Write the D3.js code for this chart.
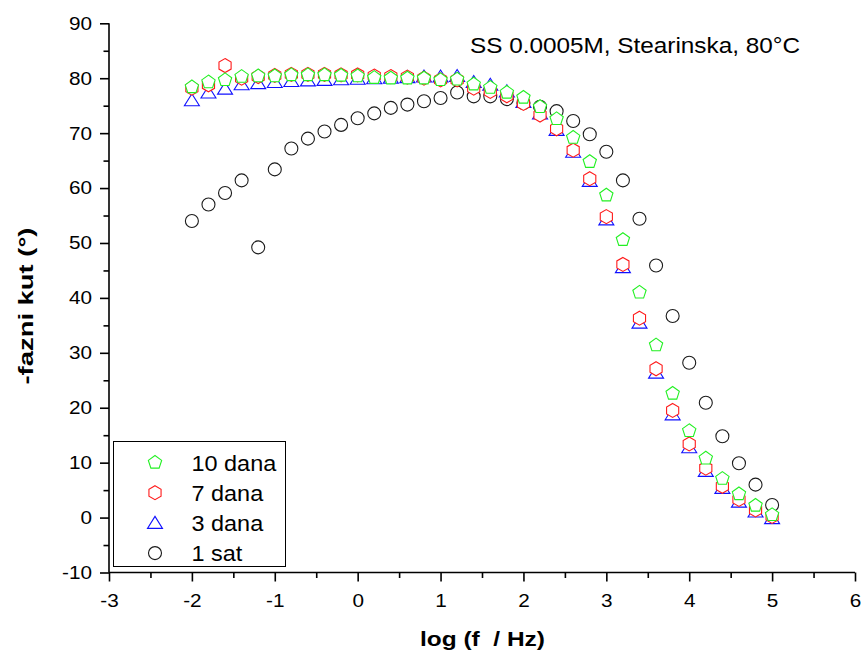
<!DOCTYPE html>
<html><head><meta charset="utf-8">
<script src="https://cdn.jsdelivr.net/npm/d3@7"></script>
<style>body{margin:0;background:#fff}svg{display:block}text{font-family:"Liberation Sans",Arial,sans-serif}</style>
</head><body><svg id="c" width="865" height="655"></svg>
<script>
const logF = [-2,-1.8,-1.6,-1.4,-1.2,-1.0,-0.8,-0.6,-0.4,-0.2,0,0.2,0.4,0.6,0.8,1.0,1.2,1.4,1.6,1.8,2.0,2.2,2.4,2.6,2.8,3.0,3.2,3.4,3.6,3.8,4.0,4.2,4.4,4.6,4.8,5.0];
const dana10 = [78.4,79.3,79.7,80.3,80.4,80.4,80.6,80.6,80.6,80.5,80.4,80.1,80.0,80.0,80.0,79.7,79.8,78.9,78.3,77.4,76.5,74.8,72.6,69.2,64.8,58.7,50.6,41.0,31.4,22.6,15.8,10.8,7.1,4.3,2.2,0.5];
const dana7 = [78.2,78.8,82.3,80.0,80.3,80.5,80.7,80.7,80.7,80.6,80.6,80.4,80.3,80.2,80.0,79.7,79.7,78.2,77.6,76.8,75.4,73.3,70.8,66.9,61.7,54.8,46.1,36.3,27.1,19.5,13.4,9.0,5.7,3.3,1.4,0.2];
const dana3 = [76.0,77.4,78.1,78.9,79.1,79.3,79.5,79.6,79.7,79.8,79.9,80.0,80.1,80.2,80.3,80.3,80.4,79.3,78.8,77.6,75.7,73.6,70.6,66.6,61.3,54.3,45.6,35.5,26.4,18.8,12.8,8.5,5.4,2.9,1.1,-0.1];
const sat1 = [54.0,57.0,59.1,61.4,49.2,63.4,67.2,69.0,70.3,71.5,72.7,73.6,74.6,75.2,75.8,76.4,77.4,76.7,76.7,76.2,75.5,74.8,74.0,72.2,69.8,66.6,61.4,54.4,45.9,36.7,28.2,20.9,14.8,9.9,6.0,2.3];
const xTicks = [-3,-2,-1,0,1,2,3,4,5,6];
const yTicks = [-10,0,10,20,30,40,50,60,70,80,90];
const seriesNames = ["10 dana","7 dana","3 dana","1 sat"];
const seriesColors = ["#22f022","#ff1a1a","#1010ff","#1a1a1a"];
const title = "SS 0.0005M, Stearinska, 80°C";
const xTitle = "log (f\u00A0\u00A0/ Hz)";
const yTitle = "-fazni kut (°)";

const svg = d3.select("#c");
const x = d3.scaleLinear().domain([-3,6]).range([109,855]);
const y = d3.scaleLinear().domain([-10,90]).range([572.5,23.3]);

function stretch(sel, f){ sel.each(function(){ const w=this.getComputedTextLength(); d3.select(this).attr("textLength",w*f).attr("lengthAdjust","spacingAndGlyphs"); }); }

function poly(n, r, rot){ return {draw(ctx){ for(let i=0;i<n;i++){const a=rot+2*Math.PI*i/n; const px=r*Math.sin(a), py=-r*Math.cos(a); if(i===0)ctx.moveTo(px,py); else ctx.lineTo(px,py);} ctx.closePath(); }}; }
const pentagon = poly(5,7,0);
const hexagon = poly(6,7,0);
const tri = {draw(ctx){ctx.moveTo(0,-6.5);ctx.lineTo(7.5,5.5);ctx.lineTo(-7.5,5.5);ctx.closePath();}};
const circ = {draw(ctx){ctx.moveTo(6.5,0);ctx.arc(0,0,6.5,0,2*Math.PI);}};
const shapes = [pentagon, hexagon, tri, circ];
const dataSets = [dana10, dana7, dana3, sat1];

// axes
const fmt = d => String(d);
const xAxis = svg.append("g").attr("transform",`translate(0,${y(-10)})`);
xAxis.call(d3.axisBottom(x).tickValues(xTicks).tickSize(9).tickPadding(12).tickFormat(fmt));
const xMinor = svg.append("g").attr("transform",`translate(0,${y(-10)})`)
  .call(d3.axisBottom(x).tickValues(d3.range(-2.5,6,1)).tickSize(5.5).tickFormat(""));
const yAxis = svg.append("g").attr("transform",`translate(${x(-3)},0)`);
yAxis.call(d3.axisLeft(y).tickValues(yTicks).tickSize(9).tickPadding(8).tickFormat(fmt));
const yMinor = svg.append("g").attr("transform",`translate(${x(-3)},0)`)
  .call(d3.axisLeft(y).tickValues(d3.range(-5,90,10)).tickSize(5.5).tickFormat(""));
svg.selectAll(".domain").attr("stroke","#000").attr("stroke-width",1.6);
svg.selectAll(".tick line").attr("stroke","#000").attr("stroke-width",1.6);
svg.selectAll(".tick text").attr("font-size",18.5).attr("fill","#000").style("font-family","Liberation Sans, Arial, sans-serif");
stretch(svg.selectAll(".tick text"),1.12);
xAxis.selectAll(".domain").attr("d",`M${x(-3)},0H${x(6)}`);
yAxis.selectAll(".domain").attr("d",`M0,${y(-10)}V${y(90)}`);
xMinor.select(".domain").remove(); yMinor.select(".domain").remove();

// axis titles
const xt = svg.append("text").attr("x",482.5).attr("y",646).attr("text-anchor","middle").attr("font-size",21).attr("font-weight","bold").text(xTitle);
xt.attr("textLength",125).attr("lengthAdjust","spacingAndGlyphs");
const yt = svg.append("text").attr("transform","translate(33,306) rotate(-90)").attr("text-anchor","middle").attr("font-size",21).attr("font-weight","bold").text(yTitle);
yt.attr("textLength",157).attr("lengthAdjust","spacingAndGlyphs");
const tt = svg.append("text").attr("x",470).attr("y",52.5).attr("font-size",22).text(title);
tt.attr("textLength",330).attr("lengthAdjust","spacingAndGlyphs");

// data: draw 1 sat first, then 3, 7, 10
[3,2,1,0].forEach(si=>{
  svg.append("g").selectAll("path").data(logF.map((v,i)=>[v,dataSets[si][i]])).join("path")
    .attr("transform",d=>`translate(${x(d[0])},${y(d[1])})`)
    .attr("d",d3.symbol().type(shapes[si]))
    .attr("fill","#fff").attr("stroke",seriesColors[si]).attr("stroke-width",1.1);
});

// legend
const lg = svg.append("g");
lg.append("rect").attr("x",113.5).attr("y",441.5).attr("width",172).attr("height",125).attr("fill","#fff").attr("stroke","#000").attr("stroke-width",1);
seriesNames.forEach((n,i)=>{
  const cy = 462.5 + i*30.2;
  lg.append("path").attr("transform",`translate(155,${cy})`).attr("d",d3.symbol().type(shapes[i])).attr("fill","#fff").attr("stroke",seriesColors[i]).attr("stroke-width",1.1);
  const t = lg.append("text").attr("x",191.5).attr("y",cy+8.3).attr("font-size",21.5).text(n);
  stretch(t,1.09);
});
</script></body></html>
